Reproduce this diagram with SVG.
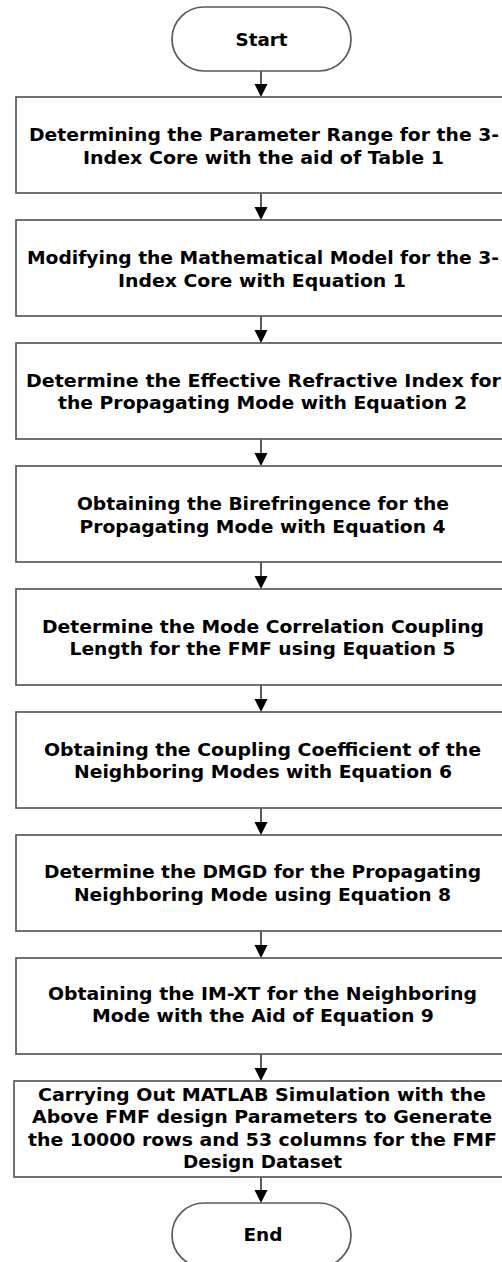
<svg xmlns="http://www.w3.org/2000/svg" width="502" height="1262" viewBox="0 0 502 1262">
<style>
.box{fill:#fff;stroke:#5a5a5a;stroke-width:1.7}
.t{font-family:"DejaVu Sans","Liberation Sans",sans-serif;font-weight:bold;font-size:17px;fill:#000;text-anchor:middle}
.c{stroke:#000;stroke-width:1.3;fill:none}
.ah{fill:#000}
</style>
<rect width="502" height="1262" fill="#fff"/>
<g id="connectors">
<line class="c" x1="261" y1="71" x2="261" y2="86"/><polygon class="ah" points="254.5,84 267.5,84 261,97"/>
<line class="c" x1="261" y1="193" x2="261" y2="209"/><polygon class="ah" points="254.5,207 267.5,207 261,220"/>
<line class="c" x1="261" y1="316" x2="261" y2="332"/><polygon class="ah" points="254.5,330 267.5,330 261,343"/>
<line class="c" x1="261" y1="439" x2="261" y2="455"/><polygon class="ah" points="254.5,453 267.5,453 261,466"/>
<line class="c" x1="261" y1="562" x2="261" y2="578"/><polygon class="ah" points="254.5,576 267.5,576 261,589"/>
<line class="c" x1="261" y1="685" x2="261" y2="701"/><polygon class="ah" points="254.5,699 267.5,699 261,712"/>
<line class="c" x1="261" y1="808" x2="261" y2="824"/><polygon class="ah" points="254.5,822 267.5,822 261,835"/>
<line class="c" x1="261" y1="931" x2="261" y2="947"/><polygon class="ah" points="254.5,945 267.5,945 261,958"/>
<line class="c" x1="261" y1="1054" x2="261" y2="1070"/><polygon class="ah" points="254.5,1068 267.5,1068 261,1081"/>
<line class="c" x1="261" y1="1177" x2="261" y2="1192"/><polygon class="ah" points="254.5,1190 267.5,1190 261,1203"/>
</g>
<g id="start">
<rect class="box" x="172" y="7" width="179" height="64" rx="32" ry="32"/>
<text class="t" x="261.5" y="46" textLength="52" lengthAdjust="spacingAndGlyphs">Start</text>
</g>
<g id="n1">
<rect class="box" x="16" y="97" width="494" height="96"/>
<text class="t" x="264" y="141" textLength="470" lengthAdjust="spacingAndGlyphs">Determining the Parameter Range for the 3-</text>
<text class="t" x="263.5" y="164" textLength="361" lengthAdjust="spacingAndGlyphs">Index Core with the aid of Table 1</text>
</g>
<g id="n2">
<rect class="box" x="16" y="220" width="494" height="96"/>
<text class="t" x="263" y="264" textLength="472" lengthAdjust="spacingAndGlyphs">Modifying the Mathematical Model for the 3-</text>
<text class="t" x="262" y="286.5" textLength="288" lengthAdjust="spacingAndGlyphs">Index Core with Equation 1</text>
</g>
<g id="n3">
<rect class="box" x="16" y="343" width="494" height="96"/>
<text class="t" x="263.5" y="386.5" textLength="475" lengthAdjust="spacingAndGlyphs">Determine the Effective Refractive Index for</text>
<text class="t" x="262.5" y="409" textLength="409" lengthAdjust="spacingAndGlyphs">the Propagating Mode with Equation 2</text>
</g>
<g id="n4">
<rect class="box" x="16" y="466" width="494" height="96"/>
<text class="t" x="263" y="509.5" textLength="372" lengthAdjust="spacingAndGlyphs">Obtaining the Birefringence for the</text>
<text class="t" x="262.5" y="532.5" textLength="366" lengthAdjust="spacingAndGlyphs">Propagating Mode with Equation 4</text>
</g>
<g id="n5">
<rect class="box" x="16" y="589" width="494" height="96"/>
<text class="t" x="263" y="632.5" textLength="442" lengthAdjust="spacingAndGlyphs">Determine the Mode Correlation Coupling</text>
<text class="t" x="262.5" y="655" textLength="386" lengthAdjust="spacingAndGlyphs">Length for the FMF using Equation 5</text>
</g>
<g id="n6">
<rect class="box" x="16" y="712" width="494" height="96"/>
<text class="t" x="262.5" y="755.5" textLength="437" lengthAdjust="spacingAndGlyphs">Obtaining the Coupling Coefficient of the</text>
<text class="t" x="263" y="778" textLength="378" lengthAdjust="spacingAndGlyphs">Neighboring Modes with Equation 6</text>
</g>
<g id="n7">
<rect class="box" x="16" y="835" width="494" height="96"/>
<text class="t" x="262.5" y="878" textLength="437" lengthAdjust="spacingAndGlyphs">Determine the DMGD for the Propagating</text>
<text class="t" x="262.5" y="900.5" textLength="377" lengthAdjust="spacingAndGlyphs">Neighboring Mode using Equation 8</text>
</g>
<g id="n8">
<rect class="box" x="16" y="958" width="494" height="96"/>
<text class="t" x="262.5" y="999.5" textLength="429" lengthAdjust="spacingAndGlyphs">Obtaining the IM-XT for the Neighboring</text>
<text class="t" x="263" y="1022" textLength="342" lengthAdjust="spacingAndGlyphs">Mode with the Aid of Equation 9</text>
</g>
<g id="n9">
<rect class="box" x="14" y="1081" width="496" height="96"/>
<text class="t" x="262" y="1101" textLength="448" lengthAdjust="spacingAndGlyphs">Carrying Out MATLAB Simulation with the</text>
<text class="t" x="262" y="1123.3" textLength="460" lengthAdjust="spacingAndGlyphs">Above FMF design Parameters to Generate</text>
<text class="t" x="262.5" y="1145.6" textLength="469" lengthAdjust="spacingAndGlyphs">the 10000 rows and 53 columns for the FMF</text>
<text class="t" x="262.5" y="1168" textLength="159" lengthAdjust="spacingAndGlyphs">Design Dataset</text>
</g>
<g id="end">
<rect class="box" x="172" y="1203" width="179" height="64" rx="32" ry="32"/>
<text class="t" x="263" y="1241" textLength="39" lengthAdjust="spacingAndGlyphs">End</text>
</g>
</svg>
